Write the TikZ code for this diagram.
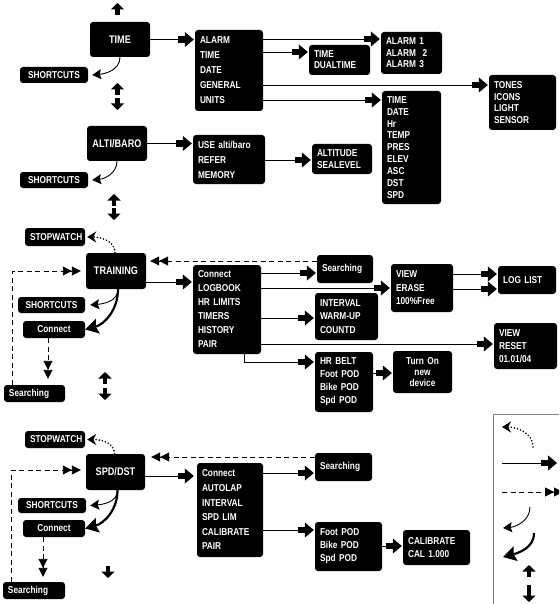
\documentclass[tikz,border=0pt]{standalone}
\usepackage{fontspec}
\newfontfamily\nar{Liberation Sans}[FakeStretch=0.83]
\usetikzlibrary{arrows.meta}
\tikzset{
  box/.style={fill=black, rounded corners=3pt, text=white, inner xsep=5pt, inner ysep=0pt, align=left,
    font=\nar\bfseries\fontsize{10}{12}\selectfont},
  lsp/.style={font=\nar\bfseries\fontsize{10}{#1}\selectfont},
  ttl/.style={align=center, font=\nar\bfseries\fontsize{11}{13}\selectfont},
  ctr/.style={align=center},
  conn/.style={line width=0.8pt, shorten >=1pt,
    -{Rectangle[length=7pt,width=6pt,sep=0pt]Triangle[length=9pt,width=15pt]}},
  dconn/.style={line width=0.9pt, dash pattern=on 5pt off 3.5pt,
    -{Triangle[length=9pt,width=9pt]Triangle[length=9pt,width=9pt]}},
  dotc/.style={line width=1.8pt, dash pattern=on 0pt off 3.2pt, line cap=round,
    -{Stealth[length=9pt,width=11pt]}},
  thinc/.style={line width=0.9pt, -{Stealth[length=9pt,width=10pt,inset=1.5pt]}},
  thickc/.style={line width=2.2pt, -{Stealth[length=13pt,width=15pt,inset=2pt]}},
  varr/.style={line width=4.5pt, -{Triangle[length=6.5pt,width=13pt]}},
}
\newcommand\bx[7]{%
  \pgfmathsetmacro\bxw{#5-#3}\pgfmathsetmacro\bxh{#6-#4}%
  \pgfmathsetmacro\bxt{#5-#3-10}%
  \pgfmathsetmacro\bxx{(#3+#5)/2}\pgfmathsetmacro\bxy{(#4+#6)/2}%
  \node[box,#1,minimum width=\bxw pt,minimum height=\bxh pt,text width=\bxt pt] (#2) at (\bxx,\bxy) {#7};}
\begin{document}
\begin{tikzpicture}[x=1pt,y=-1pt]
\clip (0,0) rectangle (559,604);
\fill[white] (0,0) rectangle (559,604);
% ---------- TIME ----------
\bx{ttl}{time}{90}{22}{150}{57}{TIME}
\bx{ctr}{sc1}{20}{67}{88}{83}{SHORTCUTS}
\bx{lsp=15}{m1}{195}{30}{263}{111}{ALARM\\TIME\\DATE\\GENERAL\\UNITS}
\bx{lsp=11.5}{alarm}{381}{32}{442}{74}{ALARM 1\\ALARM\ \ 2\\ALARM 3}
\bx{lsp=11}{tdual}{309}{45}{370}{75}{TIME\\DUALTIME}
\bx{lsp=11.7}{tones}{489}{75}{556}{130}{TONES\\ICONS\\LIGHT\\SENSOR}
\bx{lsp=11.9}{units}{382}{91}{441}{204}{TIME\\DATE\\Hr\\TEMP\\PRES\\ELEV\\ASC\\DST\\SPD}
% ---------- ALTI ----------
\bx{ttl}{alti}{87}{126}{147}{161}{ALTI/BARO}
\bx{ctr}{sc2}{20}{172}{88}{188}{SHORTCUTS}
\bx{lsp=15}{m2}{193}{135}{265}{184}{USE alti/baro\\REFER\\MEMORY}
\bx{lsp=12}{altd}{312}{144}{372}{174}{ALTITUDE\\SEALEVEL}
% ---------- TRAINING ----------
\bx{ctr}{sw1}{25}{228}{85}{246}{STOPWATCH}
\bx{ttl}{train}{86}{253}{146}{289}{TRAINING}
\bx{ctr}{sc3}{18}{297}{85}{313}{SHORTCUTS}
\bx{ctr}{con3}{23}{321}{85}{338}{Connect}
\bx{}{srch3}{4}{385}{65}{402}{Searching}
\bx{lsp=14}{m3}{193}{265}{261}{354}{Connect\\LOGBOOK\\HR LIMITS\\TIMERS\\HISTORY\\PAIR}
\bx{}{srchT}{317}{255}{373}{283}{Searching}
\bx{lsp=13.5}{view1}{391}{264}{453}{312}{VIEW\\ERASE\\100\%Free}
\bx{}{loglist}{498}{266}{556}{294}{LOG LIST}
\bx{lsp=13.5}{interval}{315}{293}{378}{340}{INTERVAL\\WARM-UP\\COUNTD}
\bx{lsp=13}{viewres}{494}{323}{557}{369}{VIEW\\RESET\\01.01/04}
\bx{lsp=13}{hrbelt}{315}{352}{373}{412}{HR BELT\\Foot POD\\Bike POD\\Spd POD}
\bx{lsp=11,ctr}{turnon}{393}{351}{452}{393}{Turn On\\new\\device}
% ---------- SPD/DST ----------
\bx{ctr}{sw2}{25}{431}{85}{448}{STOPWATCH}
\bx{ttl}{spd}{86}{454}{145}{490}{SPD/DST}
\bx{ctr}{sc4}{18}{498}{86}{513}{SHORTCUTS}
\bx{ctr}{con4}{23}{520}{85}{537}{Connect}
\bx{}{srch4}{3}{582}{65}{599}{Searching}
\bx{lsp=14.6}{m4}{197}{463}{263}{557}{Connect\\AUTOLAP\\INTERVAL\\SPD LIM\\CALIBRATE\\PAIR}
\bx{}{srchS}{315}{453}{372}{481}{Searching}
\bx{lsp=13}{foot}{315}{522}{382}{571}{Foot POD\\Bike POD\\Spd POD}
\bx{lsp=13}{cal}{403}{530}{470}{565}{CALIBRATE\\CAL 1.000}
% ---------- solid connectors ----------
\draw[conn] (time.east) -- (time.east -| m1.west);
\draw[conn] (m1.east |- 0,39) -- (alarm.west |- 0,39);
\draw[conn] (m1.east |- 0,52) -- (tdual.west |- 0,52);
\draw[conn] (m1.east |- 0,85) -- (tones.west |- 0,85);
\draw[conn] (m1.east |- 0,100) -- (units.west |- 0,100);
\draw[conn] (alti.east) -- (alti.east -| m2.west);
\draw[conn] (m2.east |- 0,160) -- (altd.west |- 0,160);
\draw[conn] (train.east |- 0,282) -- (m3.west |- 0,282);
\draw[conn] (m3.east |- 0,273) -- (srchT.west |- 0,273);
\draw[conn] (m3.east |- 0,288) -- (view1.west |- 0,288);
\draw[conn] (m3.east |- 0,318) -- (interval.west |- 0,318);
\draw[conn] (m3.east |- 0,344) -- (viewres.west |- 0,344);
\draw[conn] (m3.south -| 244,0) |- (hrbelt.west |- 0,362);
\draw[conn] (hrbelt.east |- 0,373) -- (turnon.west |- 0,373);
\draw[conn] (view1.east |- 0,274) -- (loglist.west |- 0,274);
\draw[conn] (view1.east |- 0,289) -- (loglist.west |- 0,289);
\draw[conn, shorten >=3pt] (spd.east |- 0,476) -- (m4.west |- 0,476);
\draw[conn] (m4.east |- 0,473) -- (srchS.west |- 0,473);
\draw[conn] (m4.east |- 0,530) -- (foot.west |- 0,530);
\draw[conn] (foot.east |- 0,546) -- (cal.west |- 0,546);
% ---------- dashed connectors ----------
\draw[dconn, shorten >=4pt] (srchT.west |- 0,261) -- (train.east |- 0,261);
\draw[dconn, shorten >=5pt] ([xshift=9pt]srch3.north west) |- (train.west);
\draw[dconn, shorten >=6pt] (con3.south -| 48,0) -- (srch3.north -| 48,0);
\draw[dconn, shorten >=6pt] (srchS.west |- 0,457) -- (spd.east |- 0,457);
\draw[dconn, shorten >=5pt] ([xshift=9pt]srch4.north west) |- (spd.west |- 0,470);
\draw[dconn, shorten >=5pt] (con4.south -| 43,0) -- (srch4.north -| 43,0);
% ---------- dotted ----------
\draw[dotc] ([xshift=-1pt]train.north) to[out=90,in=0] ([xshift=2pt]sw1.east);
\draw[dotc] ([xshift=-1pt]spd.north) to[out=90,in=0] ([xshift=2pt]sw2.east);
% ---------- curved ----------
\draw[thinc] (time.south) to[out=-90,in=5] ([xshift=4pt]sc1.east);
\draw[thinc] (alti.south) to[out=-90,in=5] ([xshift=4pt]sc2.east);
\draw[thinc] ([xshift=2pt]train.south) to[out=-90,in=5] ([xshift=5pt]sc3.east);
\draw[thickc] ([xshift=2pt]train.south) to[out=-90,in=15] (con3.east);
\draw[thinc] ([xshift=2pt]spd.south) to[out=-90,in=5] ([xshift=4pt]sc4.east);
\draw[thickc] ([xshift=2pt]spd.south) to[out=-90,in=15] (con4.east);
% ---------- vertical arrows ----------
\coordinate (u0a) at (117.5,15); \coordinate (u0b) at (117.5,3);
\draw[varr] (u0a) -- (u0b);
\coordinate (u1a) at (117.5,95); \coordinate (u1b) at (117.5,83);
\coordinate (d1a) at (117.5,98); \coordinate (d1b) at (117.5,110);
\draw[varr] (u1a) -- (u1b); \draw[varr] (d1a) -- (d1b);
\coordinate (u2a) at (114,206); \coordinate (u2b) at (114,194);
\coordinate (d2a) at (114,208); \coordinate (d2b) at (114,220);
\draw[varr] (u2a) -- (u2b); \draw[varr] (d2a) -- (d2b);
\coordinate (u3a) at (105,384); \coordinate (u3b) at (105,372);
\coordinate (d3a) at (105,388); \coordinate (d3b) at (105,400);
\draw[varr] (u3a) -- (u3b); \draw[varr] (d3a) -- (d3b);
\coordinate (d4a) at (108,566); \coordinate (d4b) at (108,578);
\draw[varr] (d4a) -- (d4b);
% ---------- legend ----------
\node[draw=gray, line width=0.8pt, minimum width=90pt, minimum height=210pt, anchor=north west, inner sep=0pt] (legend) at (493,414) {};
\coordinate (l1a) at (533,447); \coordinate (l1b) at (502,427);
\draw[dotc] (l1a) to[out=90,in=0] (l1b);
\coordinate (l2a) at (502,463); \coordinate (l2b) at (558,463);
\draw[conn] (l2a) -- (l2b);
\coordinate (l3a) at (502,492); \coordinate (l3b) at (563,492);
\draw[dconn] (l3a) -- (l3b);
\coordinate (l4a) at (530,507); \coordinate (l4b) at (503,528);
\draw[thinc] (l4a) to[out=-90,in=5] (l4b);
\coordinate (l5a) at (534,533); \coordinate (l5b) at (503,557);
\draw[thickc] (l5a) to[out=-90,in=15] (l5b);
\coordinate (l6a) at (529,577); \coordinate (l6b) at (529,565);
\coordinate (l7a) at (529,585); \coordinate (l7b) at (529,602);
\draw[varr] (l6a) -- (l6b); \draw[varr] (l7a) -- (l7b);
\end{tikzpicture}
\end{document}
